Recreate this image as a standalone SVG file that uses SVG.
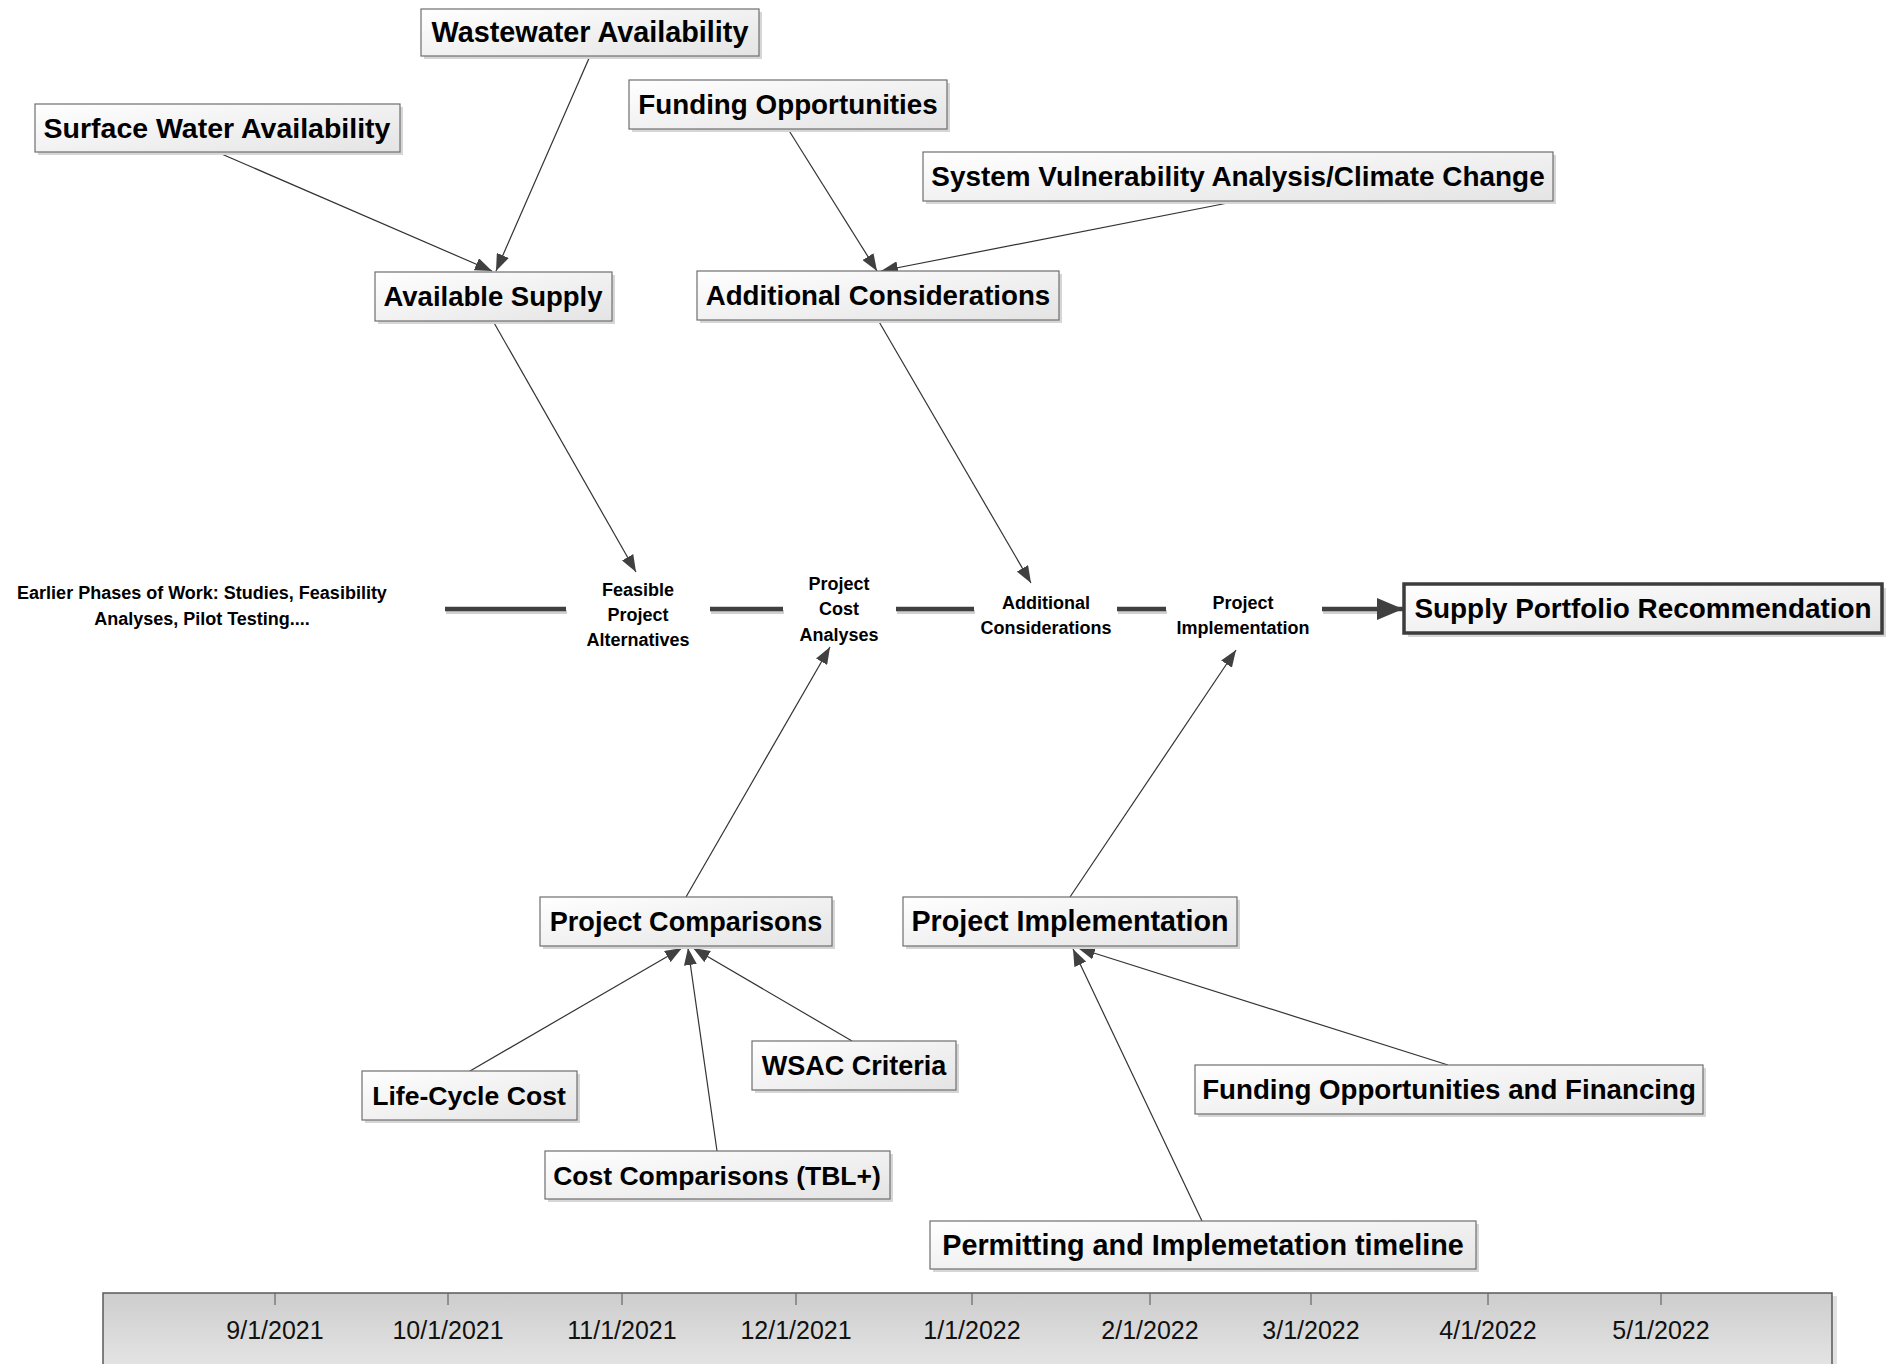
<svg xmlns="http://www.w3.org/2000/svg" width="1898" height="1364" viewBox="0 0 1898 1364">
<defs>
<linearGradient id="nodeFill" x1="0" y1="0" x2="1" y2="1">
<stop offset="0" stop-color="#ffffff"/>
<stop offset="1" stop-color="#e4e4e4"/>
</linearGradient>
<linearGradient id="barFill" x1="0" y1="0" x2="0" y2="1">
<stop offset="0" stop-color="#cdcdcd"/>
<stop offset="1" stop-color="#e6e6e6"/>
</linearGradient>
<marker id="arr" markerUnits="userSpaceOnUse" markerWidth="17" markerHeight="13" refX="17" refY="6.5" orient="auto">
<path d="M0,0 L17,6.5 L0,13 z" fill="#404040"/>
</marker>
<marker id="arrBig" markerUnits="userSpaceOnUse" markerWidth="26" markerHeight="22" refX="26" refY="11" orient="auto">
<path d="M0,0 L26,11 L0,22 z" fill="#404040"/>
</marker>
</defs>
<style>
.box{fill:url(#nodeFill);stroke:#6e6e6e;stroke-width:1.2}
.shadow{fill:#d6d6d6}
.lbl{font-family:"Liberation Sans",Arial,sans-serif;font-weight:bold;fill:#000;text-anchor:middle}
.small{font-family:"Liberation Sans",Arial,sans-serif;font-weight:bold;font-size:18px;fill:#000;text-anchor:middle}
.date{font-family:"Liberation Sans",Arial,sans-serif;font-size:25px;fill:#111;text-anchor:middle}
.conn{stroke:#333;stroke-width:1.2;fill:none}
.spine{stroke:#404040;stroke-width:4.5;fill:none}
.spineShadow{stroke:#d0d0d0;stroke-width:4;fill:none}
</style>
<rect width="1898" height="1364" fill="#ffffff"/>

<!-- timeline -->
<g id="timeline">
<rect x="107" y="1296" width="1730" height="80" fill="#e2e2e2"/>
<rect x="103" y="1293" width="1729" height="80" fill="url(#barFill)"/>
<path d="M103,1372 V1293 H1832 V1372" fill="none" stroke="#5a5a5a" stroke-width="1.5"/>
<g stroke="#666" stroke-width="1.2">
<line x1="275" y1="1293" x2="275" y2="1305"/>
<line x1="448" y1="1293" x2="448" y2="1305"/>
<line x1="622" y1="1293" x2="622" y2="1305"/>
<line x1="796" y1="1293" x2="796" y2="1305"/>
<line x1="972" y1="1293" x2="972" y2="1305"/>
<line x1="1150" y1="1293" x2="1150" y2="1305"/>
<line x1="1311" y1="1293" x2="1311" y2="1305"/>
<line x1="1488" y1="1293" x2="1488" y2="1305"/>
<line x1="1661" y1="1293" x2="1661" y2="1305"/>
</g>
<text class="date" x="275" y="1339">9/1/2021</text>
<text class="date" x="448" y="1339">10/1/2021</text>
<text class="date" x="622" y="1339">11/1/2021</text>
<text class="date" x="796" y="1339">12/1/2021</text>
<text class="date" x="972" y="1339">1/1/2022</text>
<text class="date" x="1150" y="1339">2/1/2022</text>
<text class="date" x="1311" y="1339">3/1/2022</text>
<text class="date" x="1488" y="1339">4/1/2022</text>
<text class="date" x="1661" y="1339">5/1/2022</text>
</g>

<!-- connectors -->
<g id="connectors">
<g class="spineShadow" transform="translate(1,3)">
<line x1="445" y1="609" x2="566" y2="609"/>
<line x1="710" y1="609" x2="783" y2="609"/>
<line x1="896" y1="609" x2="974" y2="609"/>
<line x1="1117" y1="609" x2="1166" y2="609"/>
<line x1="1322" y1="609" x2="1380" y2="609"/>
</g>
<line class="spine" x1="445" y1="609" x2="566" y2="609"/>
<line class="spine" x1="710" y1="609" x2="783" y2="609"/>
<line class="spine" x1="896" y1="609" x2="974" y2="609"/>
<line class="spine" x1="1117" y1="609" x2="1166" y2="609"/>
<line class="spine" x1="1322" y1="609" x2="1403" y2="609" marker-end="url(#arrBig)"/>

<line class="conn" x1="217" y1="152" x2="492" y2="271" marker-end="url(#arr)"/>
<line class="conn" x1="590" y1="56" x2="496" y2="271" marker-end="url(#arr)"/>
<line class="conn" x1="788" y1="129" x2="877" y2="271" marker-end="url(#arr)"/>
<line class="conn" x1="1238" y1="201" x2="881" y2="271" marker-end="url(#arr)"/>
<line class="conn" x1="493" y1="321" x2="636" y2="572" marker-end="url(#arr)"/>
<line class="conn" x1="878" y1="320" x2="1031" y2="583" marker-end="url(#arr)"/>
<line class="conn" x1="686" y1="897" x2="830" y2="647" marker-end="url(#arr)"/>
<line class="conn" x1="1070" y1="897" x2="1236" y2="650" marker-end="url(#arr)"/>
<line class="conn" x1="470" y1="1071" x2="682" y2="948" marker-end="url(#arr)"/>
<line class="conn" x1="717" y1="1151" x2="688" y2="948" marker-end="url(#arr)"/>
<line class="conn" x1="852" y1="1041" x2="693" y2="948" marker-end="url(#arr)"/>
<line class="conn" x1="1202" y1="1221" x2="1073" y2="949" marker-end="url(#arr)"/>
<line class="conn" x1="1448" y1="1065" x2="1078" y2="948" marker-end="url(#arr)"/>
</g>

<!-- spine labels -->
<g id="earlier-phases">
<text class="small" x="202" y="599">Earlier Phases of Work: Studies, Feasibility</text>
<text class="small" x="202" y="625">Analyses, Pilot Testing....</text>
</g>
<g id="feasible-alternatives">
<text class="small" x="638" y="596">Feasible</text>
<text class="small" x="638" y="621">Project</text>
<text class="small" x="638" y="646">Alternatives</text>
</g>
<g id="project-cost-analyses">
<text class="small" x="839" y="590">Project</text>
<text class="small" x="839" y="615">Cost</text>
<text class="small" x="839" y="641">Analyses</text>
</g>
<g id="additional-considerations-step">
<text class="small" x="1046" y="609">Additional</text>
<text class="small" x="1046" y="634">Considerations</text>
</g>
<g id="project-implementation-step">
<text class="small" x="1243" y="609">Project</text>
<text class="small" x="1243" y="634">Implementation</text>
</g>

<!-- nodes -->
<g id="wastewater-availability">
<rect class="shadow" x="424" y="12" width="338" height="47"/>
<rect class="box" x="421" y="9" width="338" height="47"/>
<text class="lbl" font-size="28.8" x="590" y="42">Wastewater Availability</text>
</g>
<g id="surface-water-availability">
<rect class="shadow" x="38" y="107" width="365" height="48"/>
<rect class="box" x="35" y="104" width="365" height="48"/>
<text class="lbl" font-size="28.5" x="217" y="138">Surface Water Availability</text>
</g>
<g id="funding-opportunities">
<rect class="shadow" x="632" y="83" width="318" height="49"/>
<rect class="box" x="629" y="80" width="318" height="49"/>
<text class="lbl" font-size="27.8" x="788" y="114">Funding Opportunities</text>
</g>
<g id="system-vulnerability">
<rect class="shadow" x="926" y="155" width="630" height="49"/>
<rect class="box" x="923" y="152" width="630" height="49"/>
<text class="lbl" font-size="27.9" x="1238" y="186">System Vulnerability Analysis/Climate Change</text>
</g>
<g id="available-supply">
<rect class="shadow" x="378" y="275" width="237" height="49"/>
<rect class="box" x="375" y="272" width="237" height="49"/>
<text class="lbl" font-size="27.5" x="493" y="306">Available Supply</text>
</g>
<g id="additional-considerations">
<rect class="shadow" x="700" y="274" width="362" height="49"/>
<rect class="box" x="697" y="271" width="362" height="49"/>
<text class="lbl" font-size="27.7" x="878" y="305">Additional Considerations</text>
</g>
<g id="supply-portfolio-recommendation">
<rect class="shadow" x="1408" y="588" width="478" height="49"/>
<rect x="1404" y="584" width="478" height="49" fill="url(#nodeFill)" stroke="#3c3c3c" stroke-width="3.5"/>
<text class="lbl" font-size="27.9" x="1643" y="618">Supply Portfolio Recommendation</text>
</g>
<g id="project-comparisons">
<rect class="shadow" x="543" y="900" width="292" height="49"/>
<rect class="box" x="540" y="897" width="292" height="49"/>
<text class="lbl" font-size="27.1" x="686" y="931">Project Comparisons</text>
</g>
<g id="project-implementation">
<rect class="shadow" x="906" y="900" width="334" height="49"/>
<rect class="box" x="903" y="897" width="334" height="49"/>
<text class="lbl" font-size="28.7" x="1070" y="931">Project Implementation</text>
</g>
<g id="wsac-criteria">
<rect class="shadow" x="755" y="1044" width="204" height="49"/>
<rect class="box" x="752" y="1041" width="204" height="49"/>
<text class="lbl" font-size="27" x="854" y="1075">WSAC Criteria</text>
</g>
<g id="life-cycle-cost">
<rect class="shadow" x="365" y="1074" width="215" height="49"/>
<rect class="box" x="362" y="1071" width="215" height="49"/>
<text class="lbl" font-size="26.6" x="469" y="1105">Life-Cycle Cost</text>
</g>
<g id="cost-comparisons">
<rect class="shadow" x="548" y="1154" width="345" height="48"/>
<rect class="box" x="545" y="1151" width="345" height="48"/>
<text class="lbl" font-size="26.5" x="717" y="1185">Cost Comparisons (TBL+)</text>
</g>
<g id="funding-opportunities-financing">
<rect class="shadow" x="1198" y="1068" width="508" height="49"/>
<rect class="box" x="1195" y="1065" width="508" height="49"/>
<text class="lbl" font-size="27.7" x="1449" y="1099">Funding Opportunities and Financing</text>
</g>
<g id="permitting-timeline">
<rect class="shadow" x="933" y="1224" width="546" height="48"/>
<rect class="box" x="930" y="1221" width="546" height="48"/>
<text class="lbl" font-size="28.8" x="1203" y="1255">Permitting and Implemetation timeline</text>
</g>
</svg>
